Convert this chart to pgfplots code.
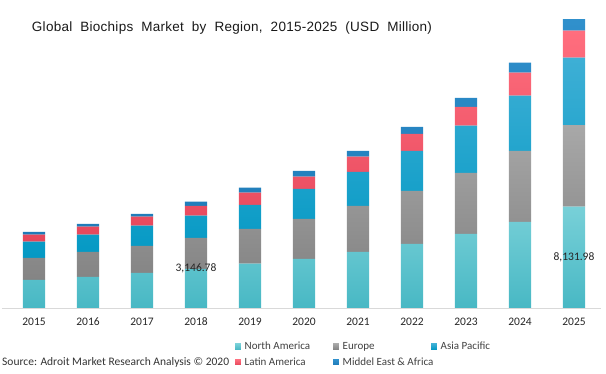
\documentclass[border=0pt]{standalone}
\usepackage{pgfplots}
\pgfplotsset{compat=1.18}
\usepackage{pgfplotstable}
\usepackage{fontspec}
\setmainfont{Carlito}
\newfontfamily\titlefont[LetterSpace=2]{Liberation Sans}
\definecolor{naT}{HTML}{78D0D8}\definecolor{naB}{HTML}{48B8C4}
\definecolor{euT}{HTML}{A8A8A8}\definecolor{euB}{HTML}{848484}
\definecolor{apT}{HTML}{3EAFD5}\definecolor{apB}{HTML}{0499C4}
\definecolor{laT}{HTML}{FF6E7E}\definecolor{laB}{HTML}{E6475B}
\definecolor{meT}{HTML}{3090CC}\definecolor{meB}{HTML}{1E7BB8}
\pgfplotstableread{
x NA EU AP LA ME
0 2260 1767 1309 562 217
1 2489 2008 1389 642 217
2 2811 2168 1630 723 217
3 3146.78 2489 1791 779 345
4 3557 2786 1927 988 401
5 3935 3212 2409 988 458
6 4497 3694 2730 1229 458
7 5139 4256 3212 1365 562
8 5942 4898 3798 1502 723
9 6906 5701 4441 1847 803
10 8131.98 6560 5404 2168 940
}\datatable
\pgfplotsset{mylegend/.style={legend image code/.code={\fill[##1] (0pt,-2.8pt) rectangle (5.6pt,2.8pt); \path (8pt,0pt);}}}
\begin{document}
\begin{tikzpicture}
\path[use as bounding box] (0,0) rectangle (606pt,374pt);
\begin{axis}[
  at={(2pt,66pt)}, anchor=south west,
  scale only axis, width=599pt, height=298.9pt,
  xmin=-0.593, xmax=10.5, ymin=0, ymax=24000,
  ybar stacked, bar width=0.41,
  axis y line=none,
  axis x line=bottom, x axis line style={draw=black!15,-},
  xtick={0,...,10},
  xticklabels={2015,2016,2017,2018,2019,2020,2021,2022,2023,2024,2025},
  major tick length=0pt,
  xticklabel style={anchor=center, yshift=-14pt, font=\fontsize{11.5}{13}\selectfont, text=black!85},
  /pgf/number format/assume math mode=true,
  legend style={at={(0.389,-0.108)}, anchor=north west, draw=none, fill=none,
    font=\fontsize{11}{13}\selectfont, text=black!75, inner sep=0pt, row sep=3.5pt,
    nodes={inner sep=1.5pt}},
  legend columns=3,
  legend cell align=left,
]
\addplot[draw=none, top color=naT, bottom color=naB, mylegend] table[x=x,y=NA] {\datatable};
\addlegendentry{\makebox[87pt][l]{North America}}
\addplot[draw=none, top color=euT, bottom color=euB, mylegend] table[x=x,y=EU] {\datatable};
\addlegendentry{\makebox[87pt][l]{Europe}}
\addplot[draw=none, top color=apT, bottom color=apB, mylegend] table[x=x,y=AP] {\datatable};
\addlegendentry{Asia Pacific}
\addplot[draw=none, top color=laT, bottom color=laB, mylegend] table[x=x,y=LA] {\datatable};
\addlegendentry{\makebox[87pt][l]{Latin America}}
\addplot[draw=none, top color=meT, bottom color=meB, mylegend] table[x=x,y=ME] {\datatable};
\addlegendentry{\makebox[87pt][l]{Middel East \& Africa}}
\coordinate (l1) at (axis cs:3,3146.78);
\coordinate (l2) at (axis cs:10,4066);
\end{axis}
\node[font=\fontsize{11.5}{13}\selectfont, text=black!85] at (l1) {3,146.78};
\node[font=\fontsize{11.5}{13}\selectfont, text=black!85] at (l2) {8,131.98};
\node[font=\titlefont\fontsize{13.5}{16}\selectfont, text=black!90] at (232pt,346pt) {Global\ \ Biochips\ \ Market\ \ by\ \ Region,\ \ 2015-2025\ \ (USD\ \ Million)};
\node[anchor=west, inner sep=0pt, font=\fontsize{11.5}{13}\selectfont, text=black!80] at (2pt,12pt) {Source: Adroit Market Research Analysis © 2020};
\end{tikzpicture}
\end{document}
